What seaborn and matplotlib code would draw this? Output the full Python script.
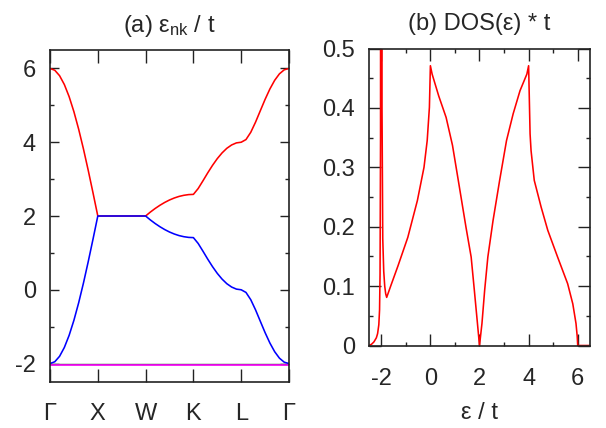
import numpy as np
import pandas as pd
import matplotlib
matplotlib.use("Agg")
import matplotlib.pyplot as plt
from matplotlib.ticker import MultipleLocator, FixedLocator
from matplotlib.transforms import offset_copy
import seaborn as sns

# ---- band structure along Γ-X-W-K-L-Γ (10 steps per segment) ----
k_labels = ["Γ", "X", "W", "K", "L", "Γ"]

band_upper = [
    6.000, 5.951, 5.804, 5.564, 5.236, 4.828, 4.351, 3.816, 3.236, 2.626, 2.000,   # Γ-X
    2.000, 2.000, 2.000, 2.000, 2.000, 2.000, 2.000, 2.000, 2.000, 2.000,          # X-W
    2.107, 2.204, 2.291, 2.368, 2.434, 2.488, 2.531, 2.561, 2.580, 2.586,          # W-K
    2.745, 2.954, 3.170, 3.373, 3.556, 3.711, 3.836, 3.926, 3.982, 4.000,          # K-L
    4.072, 4.269, 4.544, 4.854, 5.162, 5.443, 5.678, 5.854, 5.963, 6.000,          # L-Γ
]
band_lower = [
    -2.000, -1.951, -1.804, -1.564, -1.236, -0.828, -0.351, 0.184, 0.764, 1.374, 2.000,
    2.000, 2.000, 2.000, 2.000, 2.000, 2.000, 2.000, 2.000, 2.000, 2.000,
    1.893, 1.796, 1.709, 1.632, 1.566, 1.512, 1.469, 1.439, 1.420, 1.414,
    1.255, 1.046, 0.830, 0.627, 0.444, 0.289, 0.164, 0.074, 0.018, 0.000,
    -0.072, -0.269, -0.544, -0.854, -1.162, -1.443, -1.678, -1.854, -1.963, -2.000,
]
band_flat_1 = [-2.0] * len(band_upper)
band_flat_2 = [-2.0] * len(band_upper)
k_path = np.arange(len(band_upper)) / 10.0

# ---- density of states ----
dos_energy = [
    -2.50, -2.40, -2.30, -2.20, -2.15, -2.10, -2.07, -2.05, -2.03, -2.00,
    -1.97, -1.94, -1.90, -1.86, -1.82, -1.78, -1.60, -1.32, -0.92, -0.53,
    -0.26, -0.13, -0.04, 0.00, 0.07, 0.34, 0.64, 0.90, 1.18, 1.45,
    1.66, 1.79, 1.91, 2.00, 2.10, 2.21, 2.34, 2.55, 2.82, 3.10,
    3.37, 3.65, 3.93, 4.00, 4.06, 4.10, 4.23, 4.51, 4.78, 5.18,
    5.59, 5.80, 5.93, 5.98, 6.00, 6.50,
]
dos_value = [
    0.000, 0.002, 0.006, 0.013, 0.020, 0.035, 0.060, 0.120, 0.350, 5.000,
    0.400, 0.180, 0.125, 0.100, 0.087, 0.081, 0.102, 0.134, 0.182, 0.244,
    0.300, 0.345, 0.401, 0.471, 0.457, 0.420, 0.384, 0.337, 0.267, 0.199,
    0.149, 0.093, 0.040, 0.000, 0.037, 0.093, 0.149, 0.210, 0.278, 0.345,
    0.390, 0.429, 0.457, 0.471, 0.356, 0.328, 0.278, 0.233, 0.194, 0.149,
    0.104, 0.070, 0.037, 0.015, 0.000, 0.000,
]

sns.set_style("ticks")
plt.rcParams["font.family"] = ["Liberation Sans", "DejaVu Sans"]
plt.rcParams["mathtext.fontset"] = "custom"
plt.rcParams["mathtext.rm"] = "Liberation Sans"
plt.rcParams["mathtext.it"] = "Liberation Sans"

FS = 17
fig = plt.figure(figsize=(6.06, 4.28), dpi=100)
ax1 = fig.add_axes([50 / 606, 1 - 382 / 428, 239 / 606, 332 / 428])
ax2 = fig.add_axes([369 / 606, 1 - 345.5 / 428, 221 / 606, 297 / 428])

spine_col = "#222222"
for ax in (ax1, ax2):
    for s in ax.spines.values():
        s.set_visible(True)
        s.set_color(spine_col)
        s.set_linewidth(1.2)
    ax.tick_params(which="both", direction="in", top=True, right=True,
                   color=spine_col, width=1.0, labelsize=FS)
    ax.tick_params(which="major", length=6.3)
    ax.tick_params(which="minor", length=3.1)

# panel (a): bands
bands = pd.DataFrame({"k": k_path, "upper": band_upper, "lower": band_lower,
                      "flat1": band_flat_1, "flat2": band_flat_2})
sns.lineplot(data=bands, x="k", y="flat1", ax=ax1, color="#1a5c1a", lw=1.0,
             estimator=None, sort=False)
sns.lineplot(data=bands, x="k", y="flat2", ax=ax1, color="#ff00ff", lw=1.2,
             estimator=None, sort=False,
             transform=offset_copy(ax1.transData, fig=fig, x=0, y=-1.3, units="dots"))
sns.lineplot(data=bands, x="k", y="upper", ax=ax1, color="#ff0000", lw=1.15,
             estimator=None, sort=False)
sns.lineplot(data=bands, x="k", y="lower", ax=ax1, color="#0000ff", lw=1.15,
             estimator=None, sort=False)
ax1.set_xlim(0, 5)
ax1.set_ylim(-2.5, 6.5)
ax1.set_xticks(range(len(k_labels)))
ax1.set_xticklabels(k_labels)
ax1.yaxis.set_major_locator(FixedLocator([-2, 0, 2, 4, 6]))
ax1.set_yticklabels(["-2", "0", "2", "4", "6"])
ax1.yaxis.set_minor_locator(MultipleLocator(1))
ax1.tick_params(axis="x", which="major", length=9.5, pad=15)
ax1.tick_params(axis="y", pad=10)
ax1.set_xlabel("")
ax1.set_ylabel("")
ax1.set_title("(a) ε$_{\\mathregular{nk}}$ / t", fontsize=FS, pad=13)

# panel (b): DOS
dos = pd.DataFrame({"e": dos_energy, "d": dos_value})
sns.lineplot(data=dos, x="e", y="d", ax=ax2, color="#ff0000", lw=1.15,
             estimator=None, sort=False)
ax2.set_xlim(-2.5, 6.5)
ax2.set_ylim(0, 0.5)
ax2.xaxis.set_major_locator(FixedLocator([-2, 0, 2, 4, 6]))
ax2.set_xticklabels(["-2", "0", "2", "4", "6"])
ax2.xaxis.set_minor_locator(MultipleLocator(1))
ax2.yaxis.set_major_locator(FixedLocator([0, 0.1, 0.2, 0.3, 0.4, 0.5]))
ax2.set_yticklabels(["0", "0.1", "0.2", "0.3", "0.4", "0.5"])
ax2.yaxis.set_minor_locator(MultipleLocator(0.05))
ax2.tick_params(axis="both", which="major", length=8.5)
ax2.tick_params(axis="x", pad=16)
ax2.tick_params(axis="y", pad=10)
ax2.set_xlabel("ε / t", fontsize=FS, labelpad=9)
ax2.set_ylabel("")
ax2.set_title("(b) DOS(ε) * t", fontsize=FS, pad=13)

fig.savefig("out.png", dpi=100, facecolor="white")
